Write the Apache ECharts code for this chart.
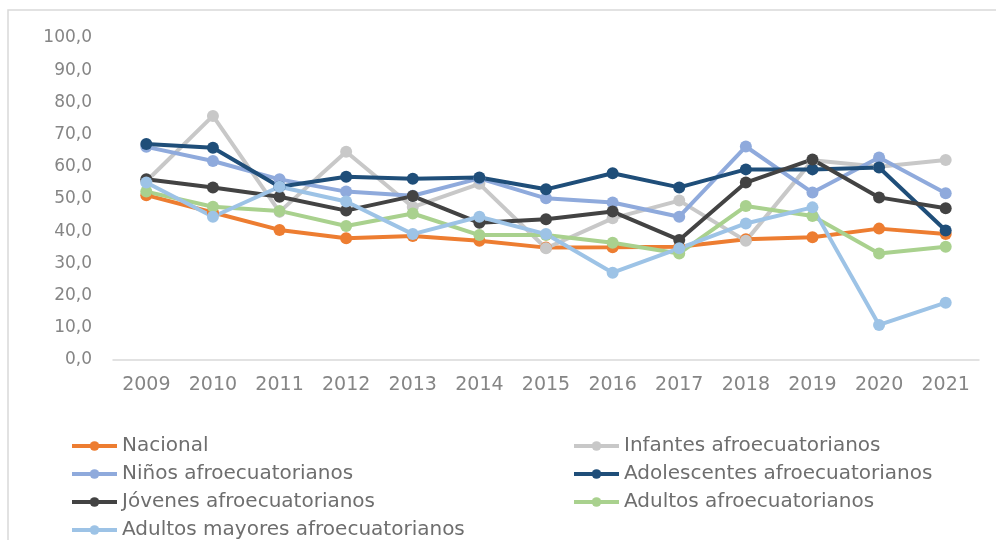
<!DOCTYPE html>
<html>
<head>
<meta charset="utf-8">
<script src="https://cdn.jsdelivr.net/npm/echarts@6/dist/echarts.min.js"></script>
<style>
  html, body { margin: 0; padding: 0; background: #ffffff; }
  #chart { width: 996px; height: 540px; }
</style>
</head>
<body>
<div id="chart"></div>
<script>
// Years on the horizontal axis
const years = ['2009', '2010', '2011', '2012', '2013', '2014', '2015', '2016', '2017', '2018', '2019', '2020', '2021'];

// Series values (percent)
const nacional        = [51.2, 45.8, 40.4, 37.8, 38.5, 37.0, 34.9, 35.0, 35.2, 37.5, 38.1, 40.8, 39.1];
const infantes        = [55.5, 75.8, 46.0, 64.7, 47.5, 54.7, 34.7, 44.0, 49.5, 37.0, 62.0, 60.0, 62.1];
const ninos           = [66.2, 61.8, 56.1, 52.3, 51.0, 56.4, 50.2, 48.9, 44.5, 66.3, 52.0, 62.9, 51.8];
const adolescentes    = [67.1, 65.9, 53.8, 56.9, 56.3, 56.7, 53.0, 58.0, 53.6, 59.2, 59.2, 59.8, 40.2];
const jovenes         = [56.1, 53.6, 50.7, 46.4, 50.9, 42.6, 43.7, 46.1, 37.3, 55.1, 62.3, 50.5, 47.1];
const adultos         = [52.3, 47.6, 46.3, 41.6, 45.5, 38.8, 38.8, 36.4, 33.1, 47.8, 44.7, 33.1, 35.2];
const adultosMayores  = [55.1, 44.5, 53.8, 49.2, 39.1, 44.5, 39.1, 27.1, 34.7, 42.4, 47.4, 10.9, 17.8];

// Value axis ticks
const yMin = 0, yMax = 100, yStep = 10;

const names = {
  nacional: 'Nacional',
  infantes: 'Infantes afroecuatorianos',
  ninos: 'Niños afroecuatorianos',
  adolescentes: 'Adolescentes afroecuatorianos',
  jovenes: 'Jóvenes afroecuatorianos',
  adultos: 'Adultos afroecuatorianos',
  mayores: 'Adultos mayores afroecuatorianos'
};

const FONT = 'DejaVu Sans';

function lineSeries(name, data, color) {
  return {
    name: name,
    type: 'line',
    data: data,
    symbol: 'circle',
    symbolSize: 12,
    lineStyle: { width: 4, color: color },
    itemStyle: { color: color },
    emphasis: { disabled: true },
    animation: false
  };
}

// Legend laid out as two columns; one entry per legend box so each sits at a fixed spot
const legendCells = [
  [names.nacional, 0, 0],
  [names.infantes, 1, 0],
  [names.ninos, 0, 1],
  [names.adolescentes, 1, 1],
  [names.jovenes, 0, 2],
  [names.adultos, 1, 2],
  [names.mayores, 0, 3]
];
const legendCols = [70, 572];
const legendTop = 436, legendRow = 28;

const legends = legendCells.map(([name, col, row]) => ({
  data: [name],
  left: legendCols[col],
  top: legendTop + row * legendRow,
  padding: 0,
  itemWidth: 45,
  itemHeight: 12,
  selectedMode: false,
  lineStyle: { width: 4 },
  textStyle: { fontFamily: FONT, fontSize: 20, color: '#6e6e6e', lineHeight: 20 }
}));

const chart = echarts.init(document.getElementById('chart'), null, { renderer: 'canvas' });
chart.setOption({
  backgroundColor: '#ffffff',
  animation: false,
  graphic: [{
    type: 'rect',
    shape: { x: 8, y: 10, width: 1100, height: 700 },
    style: { fill: 'none', stroke: '#d9d9d9', lineWidth: 1.5 },
    silent: true,
    z: -10
  }],
  grid: { left: 113, right: 17, top: 38, bottom: 180 },
  xAxis: {
    type: 'category',
    data: years,
    boundaryGap: true,
    axisLine: { lineStyle: { color: '#d9d9d9', width: 1.5 } },
    axisTick: { show: false },
    axisLabel: { fontFamily: FONT, fontSize: 19, color: '#858585', margin: 16 }
  },
  yAxis: {
    type: 'value',
    min: yMin,
    max: yMax,
    interval: yStep,
    axisLine: { show: false },
    axisTick: { show: false },
    splitLine: { show: false },
    axisLabel: {
      fontFamily: FONT, fontSize: 17, color: '#858585', margin: 21,
      formatter: v => v.toFixed(1).replace('.', ',')
    }
  },
  legend: legends,
  series: [
    lineSeries(names.nacional, nacional, '#ED7D31'),
    lineSeries(names.infantes, infantes, '#C8C8C8'),
    lineSeries(names.ninos, ninos, '#8FAADC'),
    lineSeries(names.adolescentes, adolescentes, '#1F4E79'),
    lineSeries(names.jovenes, jovenes, '#434343'),
    lineSeries(names.adultos, adultos, '#A9D18E'),
    lineSeries(names.mayores, adultosMayores, '#9DC3E6')
  ]
});
</script>
</body>
</html>
